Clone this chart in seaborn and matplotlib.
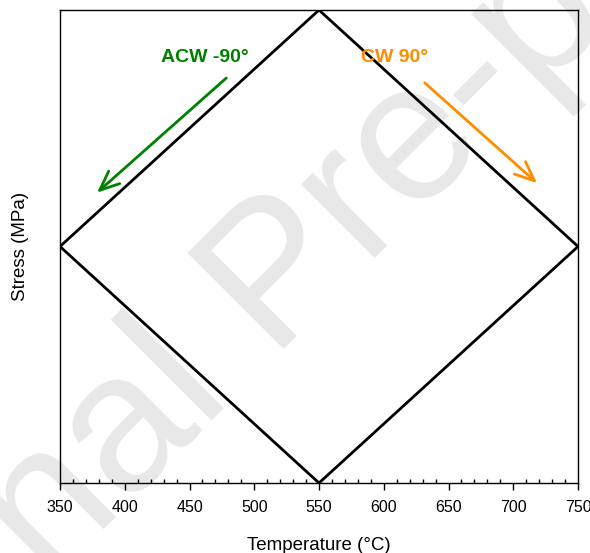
import matplotlib
matplotlib.use("Agg")
import pandas as pd
import matplotlib.pyplot as plt
from matplotlib.ticker import MultipleLocator
import seaborn as sns

# --------------------- Data ---------------------
temperature = [350, 550, 750, 550, 350]
stress = [0, 1, 0, -1, 0]
x_ticks = [350, 400, 450, 500, 550, 600, 650, 700, 750]

# arrows: (start temp, start stress) -> (end temp, end stress)
acw_start = (480, 0.72)
acw_end = (377, 0.22)
cw_start = (630, 0.70)
cw_end = (720, 0.26)
acw_label_pos = (462, 0.80)
cw_label_pos = (608, 0.80)

df = pd.DataFrame({'Temperature': temperature, 'Stress': stress})

sns.set_style('ticks')
plt.rcParams['font.family'] = ['Liberation Sans', 'DejaVu Sans']
plt.rcParams['text.color'] = 'black'
plt.rcParams['axes.labelcolor'] = 'black'
plt.rcParams['xtick.color'] = 'black'

fig = plt.figure(figsize=(5.9, 5.53), dpi=100)
ax = fig.add_axes([0.1017, 0.1266, 0.878, 0.8553])
ax.patch.set_alpha(0)

# watermark behind everything
fig.text(0.535, 0.425, 'Journal Pre-proof', fontsize=142, color='#e8e8e8',
         rotation=45, rotation_mode='anchor', ha='center', va='baseline', zorder=-5)

# the loop path, drawn in the given order (no aggregation)
sns.lineplot(data=df, x='Temperature', y='Stress', sort=False, estimator=None,
             color='black', linewidth=2, ax=ax, zorder=3)

# Direction arrows
arrow = '->, head_length=1.4, head_width=0.6'
ax.annotate('', xy=acw_end, xytext=acw_start,
            arrowprops=dict(arrowstyle=arrow, color='green', lw=2))
ax.annotate('', xy=cw_end, xytext=cw_start,
            arrowprops=dict(arrowstyle=arrow, color='darkorange', lw=2))
ax.text(*acw_label_pos, 'ACW -90°', color='green', fontsize=14, fontweight='bold',
        ha='center', va='center')
ax.text(*cw_label_pos, 'CW 90°', color='darkorange', fontsize=14, fontweight='bold',
        ha='center', va='center')

ax.set_xlim(350, 750)
ax.set_ylim(-1, 1)
ax.set_xticks(x_ticks)
ax.xaxis.set_minor_locator(MultipleLocator(10))
ax.tick_params(axis='x', which='major', direction='out', length=5, width=1,
               labelsize=11.5, pad=7)
ax.tick_params(axis='x', which='minor', direction='in', length=3, width=1)
ax.set_yticks([])
for s in ax.spines.values():
    s.set_visible(True)
    s.set_linewidth(1)
    s.set_color('black')

ax.set_xlabel('Temperature (°C)', fontsize=13.5, labelpad=16)
ax.set_ylabel('Stress (MPa)', fontsize=13.5, labelpad=22)

plt.savefig('out.png', dpi=100)
